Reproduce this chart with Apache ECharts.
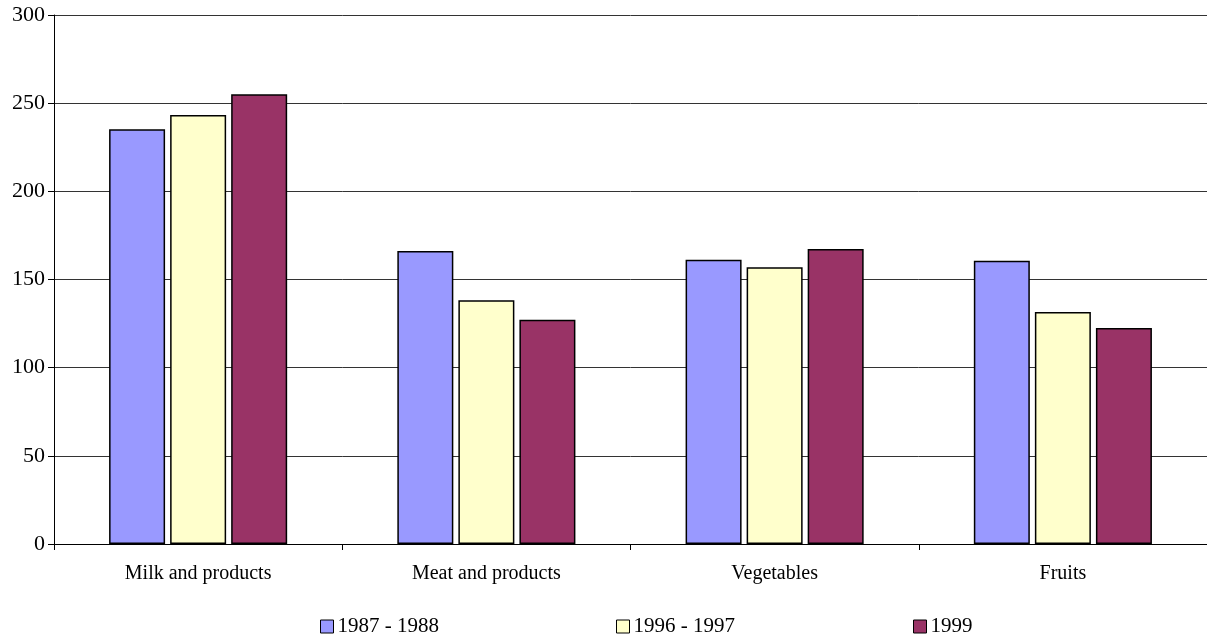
<!DOCTYPE html>
<html>
<head>
<meta charset="utf-8">
<script src="https://cdn.jsdelivr.net/npm/echarts@6/dist/echarts.min.js"></script>
<style>html,body{margin:0;padding:0;background:#fff;}#c{width:1207px;height:640px;}</style>
</head>
<body>
<div id="c"></div>
<script>
const categories = ['Milk and products', 'Meat and products', 'Vegetables', 'Fruits'];
const seriesNames = ['1987 - 1988', '1996 - 1997', '1999'];
const s1987 = [235.2, 166.2, 161.2, 160.7];
const s1996 = [243.3, 138.2, 156.9, 131.6];
const s1999 = [255.0, 127.2, 167.3, 122.5];
const colors = ['#9999FF', '#FFFFCC', '#993366'];
const yTicks = [0, 50, 100, 150, 200, 250, 300];

const font = 'Liberation Serif, Times New Roman, serif';
const chart = echarts.init(document.getElementById('c'));
const dataSets = [s1987, s1996, s1999];
const legendLefts = [315, 611, 908];
chart.setOption({
  animation: false,
  color: colors,
  grid: { left: 54, right: 0, top: 15, bottom: 96, containLabel: false },
  legend: seriesNames.map((n, i) => ({
    data: [n],
    left: legendLefts[i],
    top: 611,
    itemWidth: 13,
    itemHeight: 13,
    itemGap: 4,
    icon: 'rect',
    itemStyle: { borderColor: '#000', borderWidth: 1 },
    textStyle: { fontFamily: font, fontSize: 21, color: '#000', padding: [0, 0, 0, -1] }
  })),
  xAxis: {
    type: 'category',
    data: categories,
    axisLine: { lineStyle: { color: '#000', width: 1 } },
    axisTick: { show: true, length: 6, lineStyle: { color: '#000' } },
    axisLabel: { fontFamily: font, fontSize: 20, color: '#000', margin: 20 }
  },
  yAxis: {
    type: 'value',
    min: yTicks[0],
    max: yTicks[yTicks.length - 1],
    interval: 50,
    axisLine: { show: true, lineStyle: { color: '#000', width: 1 } },
    axisTick: { show: true, length: 6, lineStyle: { color: '#000' } },
    axisLabel: { fontFamily: font, fontSize: 22, color: '#000', margin: 9 },
    splitLine: { show: true, lineStyle: { color: '#333', width: 1 } }
  },
  series: dataSets.map((d, i) => ({
    name: seriesNames[i],
    type: 'bar',
    data: d,
    barWidth: 56,
    barGap: '9%',
    itemStyle: { color: colors[i], borderColor: '#000', borderWidth: 1.5 }
  }))
});
</script>
</body>
</html>
